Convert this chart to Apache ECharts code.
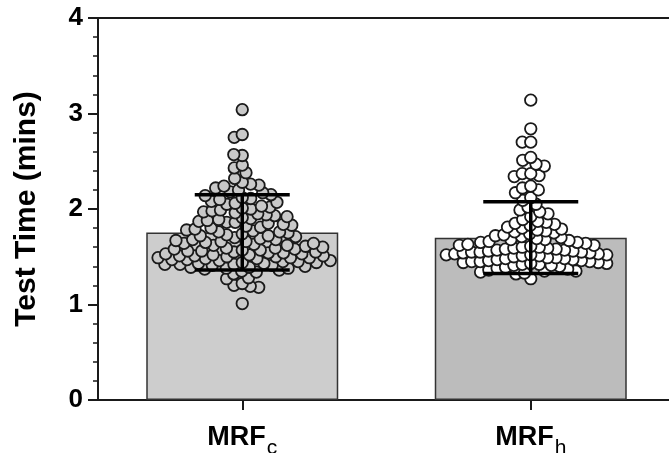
<!DOCTYPE html>
<html>
<head>
<meta charset="utf-8">
<script src="https://cdn.jsdelivr.net/npm/echarts@6/dist/echarts.min.js"></script>
<style>
html,body{margin:0;padding:0;background:#fff;}
#chart{width:669px;height:453px;}
</style>
</head>
<body>
<div id="chart"></div>
<script>
// ---- DATA ----
const categories = ['MRFc', 'MRFh'];
const meanValues = [1.755, 1.70];
const sdValues = [0.395, 0.375];
const yMin = 0, yMax = 4, yInterval = 1;

const mrfcPoints = [
  1.01,
  1.18, 1.19, 1.20, 1.22, 1.27, 1.28,
  1.32, 1.34, 1.35, 1.36, 1.37, 1.38, 1.38, 1.39, 1.39, 1.40,
  1.41, 1.41, 1.42, 1.42, 1.42, 1.43, 1.43, 1.44, 1.44, 1.45, 1.45, 1.46, 1.46, 1.47, 1.47, 1.48, 1.48, 1.49, 1.49, 1.49, 1.50, 1.50,
  1.51, 1.51, 1.51, 1.52, 1.52, 1.53, 1.53, 1.54, 1.54, 1.55, 1.55, 1.56, 1.56, 1.57, 1.57, 1.58, 1.58, 1.59, 1.59, 1.60,
  1.61, 1.62, 1.62, 1.63, 1.64, 1.64, 1.65, 1.66, 1.66, 1.67, 1.68, 1.68, 1.69, 1.70,
  1.71, 1.72, 1.72, 1.73, 1.74, 1.75, 1.76, 1.76, 1.77, 1.78, 1.79, 1.80,
  1.81, 1.82, 1.83, 1.84, 1.85, 1.86, 1.86, 1.87, 1.88, 1.89, 1.90,
  1.91, 1.92, 1.93, 1.94, 1.95, 1.96, 1.97, 1.98, 1.99, 2.00,
  2.01, 2.02, 2.03, 2.05, 2.06, 2.07, 2.08, 2.10,
  2.11, 2.12, 2.14, 2.15, 2.17, 2.18, 2.20,
  2.22, 2.24, 2.25, 2.26, 2.28,
  2.32, 2.38, 2.43, 2.46,
  2.56, 2.57, 2.75, 2.78, 3.04
];

const mrfhPoints = [
  1.27,
  1.32, 1.33, 1.34, 1.35, 1.35, 1.36, 1.37, 1.38, 1.39,
  1.40, 1.41, 1.41, 1.42, 1.42, 1.43, 1.43, 1.44, 1.44, 1.45, 1.45, 1.45, 1.46, 1.46, 1.47, 1.47, 1.48, 1.48, 1.49, 1.49, 1.50,
  1.51, 1.51, 1.52, 1.52, 1.52, 1.53, 1.53, 1.54, 1.54, 1.55, 1.55, 1.55, 1.56, 1.56, 1.57, 1.57, 1.58, 1.58, 1.59, 1.59, 1.60, 1.60,
  1.61, 1.62, 1.62, 1.63, 1.64, 1.65, 1.65, 1.66, 1.67, 1.68, 1.68, 1.69, 1.70,
  1.71, 1.72, 1.73, 1.74, 1.75, 1.76, 1.77, 1.78, 1.79, 1.80,
  1.81, 1.83, 1.84, 1.85, 1.86, 1.87, 1.89,
  1.92, 1.95, 1.97, 1.99,
  2.02, 2.05, 2.09, 2.12, 2.17, 2.20, 2.22, 2.24,
  2.34, 2.35, 2.37, 2.37, 2.45, 2.47, 2.51, 2.54,
  2.70, 2.70, 2.84, 3.14
];

// ---- STYLE ----
const FONT = '"Liberation Sans", Arial, Helvetica, sans-serif';
const INK = '#1a1a1a';
const barColors = ['#cdcdcd', '#bcbcbc'];
const dotFills = ['#c9c9c9', '#ffffff'];

const chart = echarts.init(document.getElementById('chart'), null, {renderer: 'canvas'});

const option = {
  animation: false,
  backgroundColor: '#ffffff',
  grid: {left: 98, top: 18, width: 577, height: 382, containLabel: false, outerBoundsMode: 'none'},
  xAxis: [
    {
      type: 'category',
      data: categories,
      position: 'bottom',
      axisLine: {show: true, lineStyle: {color: INK, width: 2}},
      axisTick: {show: true, alignWithLabel: true, length: 10, lineStyle: {color: INK, width: 2}},
      axisLabel: {
        margin: 21,
        formatter: function (v) { return '{m|' + v.slice(0, 3) + '}{s|' + v.slice(3) + '}'; },
        rich: {
          m: {fontFamily: FONT, fontWeight: 'bold', fontSize: 27, color: '#000', lineHeight: 34},
          s: {fontFamily: FONT, fontWeight: 'normal', fontSize: 21, color: '#000', padding: [20, 0, 0, 1], lineHeight: 21}
        }
      },
      splitLine: {show: false}
    },
    {
      type: 'value', min: 0, max: 2, show: false, position: 'bottom'
    },
    {
      type: 'category', data: categories, position: 'top',
      axisLine: {show: true, lineStyle: {color: INK, width: 2}},
      axisTick: {show: false}, axisLabel: {show: false}, splitLine: {show: false}
    }
  ],
  yAxis: {
    type: 'value',
    min: yMin, max: yMax, interval: yInterval,
    name: 'Test Time (mins)',
    nameLocation: 'middle',
    nameGap: 56,
    nameTextStyle: {fontFamily: FONT, fontWeight: 'bold', fontSize: 30, color: '#000'},
    axisLine: {show: true, lineStyle: {color: INK, width: 2}},
    axisTick: {show: true, length: 10, lineStyle: {color: INK, width: 2}},
    minorTick: {show: true, splitNumber: 5, length: 5, lineStyle: {color: INK, width: 1.5}},
    axisLabel: {margin: 15, fontFamily: FONT, fontWeight: 'bold', fontSize: 26, color: '#000'},
    splitLine: {show: false}
  },
  series: [
    {
      type: 'bar',
      xAxisIndex: 0,
      barWidth: 192,
      z: 1,
      data: meanValues.map(function (m, i) {
        return {value: m, itemStyle: {color: barColors[i], borderColor: '#333', borderWidth: 1.5}};
      })
    },
    {
      type: 'scatter', name: 'MRFc', xAxisIndex: 1, z: 3,
      symbol: 'circle', symbolSize: 11.5,
      itemStyle: {color: dotFills[0], borderColor: INK, borderWidth: 1.8, opacity: 1},
      data: []
    },
    {
      type: 'scatter', name: 'MRFh', xAxisIndex: 1, z: 3,
      symbol: 'circle', symbolSize: 11.5,
      itemStyle: {color: dotFills[1], borderColor: INK, borderWidth: 1.8, opacity: 1},
      data: []
    },
    {
      type: 'custom', xAxisIndex: 0, z: 5,
      data: categories.map(function (c, i) { return [i, meanValues[i], sdValues[i]]; }),
      encode: {x: 0, y: 1},
      renderItem: function (params, api) {
        const i = api.value(0), m = api.value(1), s = api.value(2);
        const top = api.coord([i, m + s]);
        const bot = api.coord([i, m - s]);
        const hw = 47.5;
        const st = {stroke: '#000', lineWidth: 3.5};
        return {
          type: 'group',
          children: [
            {type: 'line', shape: {x1: top[0], y1: top[1], x2: bot[0], y2: bot[1]}, style: st},
            {type: 'line', shape: {x1: top[0] - hw, y1: top[1], x2: top[0] + hw, y2: top[1]}, style: st},
            {type: 'line', shape: {x1: bot[0] - hw, y1: bot[1], x2: bot[0] + hw, y2: bot[1]}, style: st}
          ]
        };
      }
    }
  ]
};

chart.setOption(option);

// Beeswarm layout computed from the library's scales
const y0 = chart.convertToPixel({yAxisIndex: 0}, 0);
const y1 = chart.convertToPixel({yAxisIndex: 0}, 1);
const x0 = chart.convertToPixel({xAxisIndex: 1}, 0);
const x1 = chart.convertToPixel({xAxisIndex: 1}, 1);
const yScale = Math.abs(y1 - y0);
const xScale = Math.abs(x1 - x0);
const MIN_D = 8.5;

function gcd(a, b) { return b ? gcd(b, a % b) : a; }

function swarm(values, centerIndex) {
  const n = values.length;
  let step = 53;
  while (gcd(step, n) !== 1) step++;
  const placed = [];
  const out = new Array(n);
  for (let k = 0; k < n; k++) {
    const idx = (k * step) % n;
    const v = values[idx];
    const py = v * yScale;
    const blocked = [];
    placed.forEach(function (p) {
      const dy = Math.abs(p.y - py);
      if (dy < MIN_D) {
        const w = Math.sqrt(MIN_D * MIN_D - dy * dy);
        blocked.push([p.x - w, p.x + w]);
      }
    });
    const cands = [0];
    blocked.forEach(function (b) { cands.push(b[0], b[1]); });
    cands.sort(function (a, b) { return Math.abs(a) - Math.abs(b) || a - b; });
    let best = 0;
    for (let c of cands) {
      let ok = true;
      for (let j = 0; j < blocked.length; j++) {
        if (c > blocked[j][0] + 1e-6 && c < blocked[j][1] - 1e-6) { ok = false; break; }
      }
      if (ok) { best = c; break; }
    }
    placed.push({x: best, y: py});
    out[idx] = [centerIndex + 0.5 + best / xScale, v];
  }
  return out;
}

chart.setOption({
  series: [
    {},
    {data: swarm(mrfcPoints, 0)},
    {data: swarm(mrfhPoints, 1)},
    {}
  ]
});
</script>
</body>
</html>
